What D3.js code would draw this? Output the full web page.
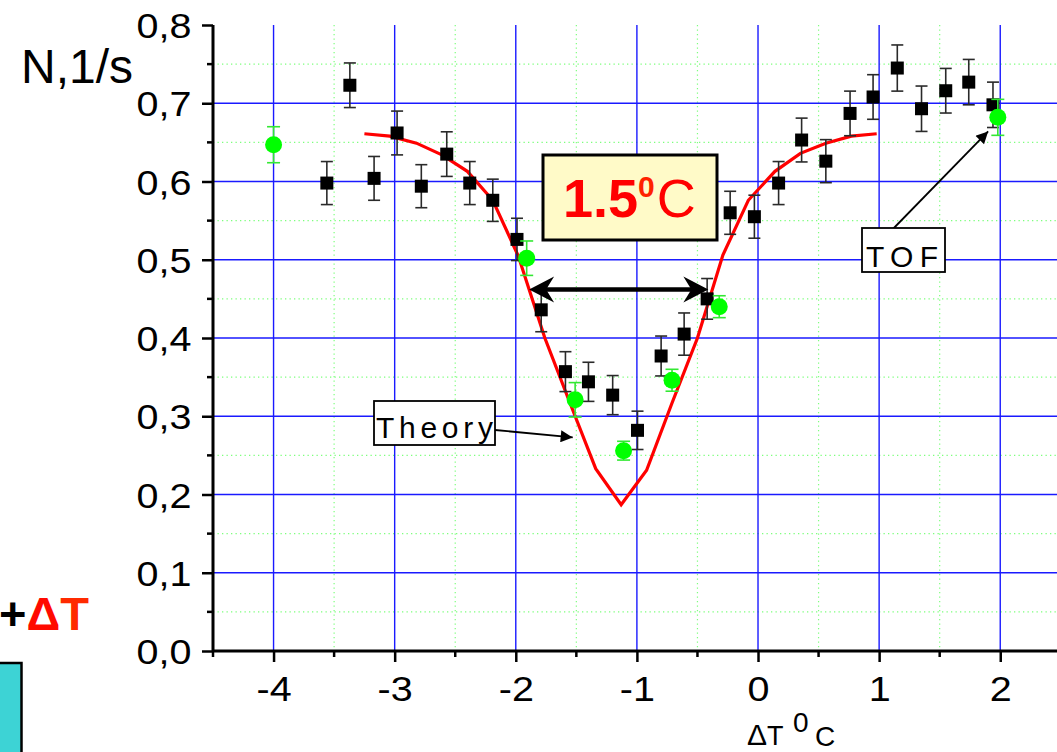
<!DOCTYPE html>
<html>
<head>
<meta charset="utf-8">
<script src="https://cdn.jsdelivr.net/npm/d3@7"></script>
<style>
  html, body { margin: 0; padding: 0; background: #fff; overflow: hidden; }
  svg { display: block; font-family: "Liberation Sans", Arial, sans-serif; }
</style>
</head>
<body>
<svg id="chart" width="1057" height="752"></svg>
<script>
// Measured count rate (black squares) with error bars
const measX = [-3.56, -3.37, -3.17, -2.98, -2.78, -2.57, -2.38, -2.19, -1.99, -1.79,
               -1.59, -1.40, -1.20, -0.995, -0.80, -0.61, -0.42, -0.23, -0.03, 0.17,
               0.36, 0.56, 0.76, 0.95, 1.15, 1.35, 1.55, 1.74, 1.94];
const measY = [0.598, 0.723, 0.604, 0.662, 0.594, 0.635, 0.598, 0.576, 0.526, 0.436,
               0.357, 0.344, 0.327, 0.282, 0.377, 0.405, 0.450, 0.560, 0.555, 0.598,
               0.653, 0.626, 0.687, 0.708, 0.745, 0.693, 0.716, 0.727, 0.698];
const measErr = [0.0275, 0.0285, 0.028, 0.028, 0.0275, 0.0285, 0.0275, 0.027, 0.027, 0.028,
                 0.0255, 0.025, 0.025, 0.0245, 0.0255, 0.027, 0.026, 0.0275, 0.0275, 0.0275,
                 0.028, 0.0275, 0.0285, 0.0285, 0.0295, 0.029, 0.0285, 0.029, 0.029];

// TOF points (green circles)
const tofX = [-4.0, -1.91, -1.51, -1.11, -0.71, -0.32, 1.98];
const tofY = [0.647, 0.502, 0.321, 0.256, 0.346, 0.440, 0.682];
const tofErr = [0.023, 0.022, 0.022, 0.012, 0.014, 0.014, 0.023];

// Theory curve
const theoryX = [-3.25, -3.04, -2.82, -2.61, -2.40, -2.19, -1.98, -1.76, -1.55, -1.34, -1.13,
                 -0.92, -0.71, -0.50, -0.29, -0.08, 0.14, 0.35, 0.56, 0.77, 0.98];
const theoryY = [0.661, 0.658, 0.649, 0.634, 0.613, 0.576, 0.505, 0.400, 0.316, 0.233, 0.187,
                 0.231, 0.317, 0.400, 0.506, 0.576, 0.613, 0.636, 0.649, 0.658, 0.661];

// Axis ticks
const xTicks = [-4, -3, -2, -1, 0, 1, 2];
const xMinor = [-4.5, -3.5, -2.5, -1.5, -0.5, 0.5, 1.5, 2.5];
const yTicks = [0.0, 0.1, 0.2, 0.3, 0.4, 0.5, 0.6, 0.7, 0.8];
const yMinor = [0.05, 0.15, 0.25, 0.35, 0.45, 0.55, 0.65, 0.75];

// Width of the dip
const fwhmLeft = -1.89, fwhmRight = -0.41, fwhmLevel = 0.462;

const svg = d3.select("#chart");
const x = d3.scaleLinear().domain([-4.5, 2.5]).range([213, 1060.8]);
const y = d3.scaleLinear().domain([0, 0.8]).range([651, 25]);
const [yBot, yTop] = y.range();

// grid: minor dotted green, major solid blue
const grid = svg.append("g");
grid.selectAll(".gxm").data(xMinor.filter(v => v > -4.5 && v < 2.5)).join("line")
  .attr("x1", d => x(d)).attr("x2", d => x(d)).attr("y1", yTop).attr("y2", yBot)
  .attr("stroke", "#7dff7d").attr("stroke-width", 1.2).attr("stroke-dasharray", "1.3,3.2");
grid.selectAll(".gym").data(yMinor).join("line")
  .attr("x1", x(-4.5)).attr("x2", 1057).attr("y1", d => y(d)).attr("y2", d => y(d))
  .attr("stroke", "#7dff7d").attr("stroke-width", 1.2).attr("stroke-dasharray", "1.3,3.2");
grid.selectAll(".gx").data(xTicks).join("line")
  .attr("x1", d => x(d)).attr("x2", d => x(d)).attr("y1", yTop).attr("y2", yBot)
  .attr("stroke", "#1a1aff").attr("stroke-width", 1.4);
grid.selectAll(".gy").data(yTicks.filter(v => v > 0 && v < 0.8)).join("line")
  .attr("x1", x(-4.5)).attr("x2", 1057).attr("y1", d => y(d)).attr("y2", d => y(d))
  .attr("stroke", "#1a1aff").attr("stroke-width", 1.4);

// axes
const fmtY = d => d3.format(".1f")(d).replace(".", ",");
const yAxis = svg.append("g").attr("transform", `translate(${x(-4.5)},0)`)
  .call(d3.axisLeft(y).tickValues(yTicks).tickSize(11).tickPadding(8).tickFormat(fmtY));
const xAxis = svg.append("g").attr("transform", `translate(0,${yBot})`)
  .call(d3.axisBottom(x).tickValues(xTicks).tickSize(11).tickPadding(14).tickFormat(d => String(d)));
[yAxis, xAxis].forEach(g => {
  g.select(".domain").attr("stroke", "#000").attr("stroke-width", 3);
  g.selectAll(".tick line").attr("stroke", "#000").attr("stroke-width", 2.5);
  g.selectAll(".tick text").attr("fill", "#000").style("font-size", "35px")
    .style("font-family", "'Liberation Sans', Arial, sans-serif")
    .attr("transform", "scale(1.13,1)");
});
xAxis.select(".domain").attr("d", `M${x(-4.5)},0H1060`);
yAxis.select(".domain").attr("d", `M0,${yTop}V${yBot}`);
yAxis.selectAll(".tick text").attr("dy", "0.36em");
xAxis.selectAll(".tick text").attr("dy", "0.71em");
// minor ticks
yAxis.selectAll(".ymt").data(yMinor).join("line")
  .attr("x1", -6).attr("x2", 0).attr("y1", d => y(d)).attr("y2", d => y(d))
  .attr("stroke", "#000").attr("stroke-width", 2.5);
xAxis.selectAll(".xmt").data(xMinor).join("line")
  .attr("x1", d => x(d)).attr("x2", d => x(d)).attr("y1", 0).attr("y2", 6)
  .attr("stroke", "#000").attr("stroke-width", 2.5);

// axis titles
svg.append("text").attr("x", 21).attr("y", 83).attr("font-size", 48).attr("fill", "#000").text("N,1/s");
const xt = svg.append("text").attr("y", 745).attr("fill", "#000");
xt.append("tspan").attr("x", 747).attr("font-size", 30).text("Δ");
xt.append("tspan").attr("font-size", 27).text("T");
xt.append("tspan").attr("x", 793).attr("y", 732).attr("font-size", 28).text("0");
xt.append("tspan").attr("x", 815).attr("y", 746).attr("font-size", 28).text("C");

// side decorations
svg.append("rect").attr("x", -4).attr("y", 663).attr("width", 25.5).attr("height", 100)
  .attr("fill", "#3dd3d5").attr("stroke", "#000").attr("stroke-width", 2.5);
const pt = svg.append("text").attr("x", 89).attr("y", 630).attr("text-anchor", "end")
  .attr("font-size", 47).attr("font-weight", "bold");
pt.append("tspan").attr("fill", "#000").text("+");
pt.append("tspan").attr("fill", "#ff0a00").text("Δ");
pt.append("tspan").attr("fill", "#ff2a00").text("T");

// theory curve
const theory = theoryX.map((v, i) => [v, theoryY[i]]);
svg.append("path").datum(theory)
  .attr("d", d3.line().x(d => x(d[0])).y(d => y(d[1])))
  .attr("fill", "none").attr("stroke", "#ff0000").attr("stroke-width", 3.2)
  .attr("stroke-linejoin", "miter");

// error bars
function errorBars(xs, ys, es, color, width, cap) {
  const g = svg.append("g").attr("stroke", color).attr("stroke-width", width);
  xs.forEach((v, i) => {
    const cx = x(v), t = y(ys[i] + es[i]), b = y(ys[i] - es[i]);
    g.append("line").attr("x1", cx).attr("x2", cx).attr("y1", t).attr("y2", b);
    g.append("line").attr("x1", cx - cap).attr("x2", cx + cap).attr("y1", t).attr("y2", t);
    g.append("line").attr("x1", cx - cap).attr("x2", cx + cap).attr("y1", b).attr("y2", b);
  });
}
errorBars(measX, measY, measErr, "#2a2a2a", 1.6, 6);
svg.append("g").selectAll("rect").data(measX).join("rect")
  .attr("x", (d) => x(d) - 6.5).attr("y", (d, i) => y(measY[i]) - 6.5)
  .attr("width", 13).attr("height", 13).attr("fill", "#000");

errorBars(tofX, tofY, tofErr, "#33e833", 1.6, 6.5);
svg.append("g").selectAll("circle").data(tofX).join("circle")
  .attr("cx", d => x(d)).attr("cy", (d, i) => y(tofY[i])).attr("r", 8.5).attr("fill", "#00ff00");

// double arrow marking the width of the dip
const ax1 = x(fwhmLeft), ax2 = x(fwhmRight), ay = y(fwhmLevel);
svg.append("line").attr("x1", ax1 + 12).attr("x2", ax2 - 12).attr("y1", ay).attr("y2", ay)
  .attr("stroke", "#000").attr("stroke-width", 4.5);
const head = (tx, dir) => `M${tx},${ay} L${tx + dir * 25},${ay - 13} L${tx + dir * 17},${ay} L${tx + dir * 25},${ay + 13} Z`;
svg.append("path").attr("d", head(ax1, 1)).attr("fill", "#000");
svg.append("path").attr("d", head(ax2, -1)).attr("fill", "#000");

// width label
svg.append("rect").attr("x", 543).attr("y", 155).attr("width", 174).attr("height", 85)
  .attr("fill", "#fffac8").attr("stroke", "#000").attr("stroke-width", 3);
const wl = svg.append("text").attr("x", 563).attr("y", 217).attr("fill", "#ff0000");
wl.append("tspan").attr("font-size", 54).attr("font-weight", "bold").text("1.5");
wl.append("tspan").attr("y", 197).attr("font-size", 30).attr("font-weight", "bold").attr("fill", "#ff2200").text("0");
wl.append("tspan").attr("y", 217).attr("dx", 2).attr("font-size", 54).text("C");

// callout arrows
const defs = svg.append("defs");
defs.append("marker").attr("id", "tri").attr("viewBox", "0 0 10 10").attr("refX", 10).attr("refY", 5)
  .attr("markerUnits", "userSpaceOnUse").attr("markerWidth", 18).attr("markerHeight", 12)
  .attr("orient", "auto")
  .append("path").attr("d", "M0,0 L10,5 L0,10 Z").attr("fill", "#000");

svg.append("line").attr("x1", 495).attr("y1", 430).attr("x2", x(-1.53)).attr("y2", y(0.273))
  .attr("stroke", "#000").attr("stroke-width", 1.8).attr("marker-end", "url(#tri)");
svg.append("line").attr("x1", 890).attr("y1", 232).attr("x2", x(1.90)).attr("y2", y(0.664))
  .attr("stroke", "#000").attr("stroke-width", 1.8).attr("marker-end", "url(#tri)");

// callout boxes
function callout(bx, by, bw, bh, label, tx, ty, len) {
  svg.append("rect").attr("x", bx).attr("y", by).attr("width", bw).attr("height", bh)
    .attr("fill", "#fff").attr("stroke", "#000").attr("stroke-width", 1.8);
  svg.append("text").attr("x", tx).attr("y", ty).attr("font-size", 30)
    .attr("textLength", len).attr("lengthAdjust", "spacing")
    .attr("fill", "#000").text(label);
}
callout(374, 401, 121, 44, "Theory", 376, 438, 117);
callout(862, 228, 83, 44, "TOF", 866, 267, 72);
</script>
</body>
</html>
